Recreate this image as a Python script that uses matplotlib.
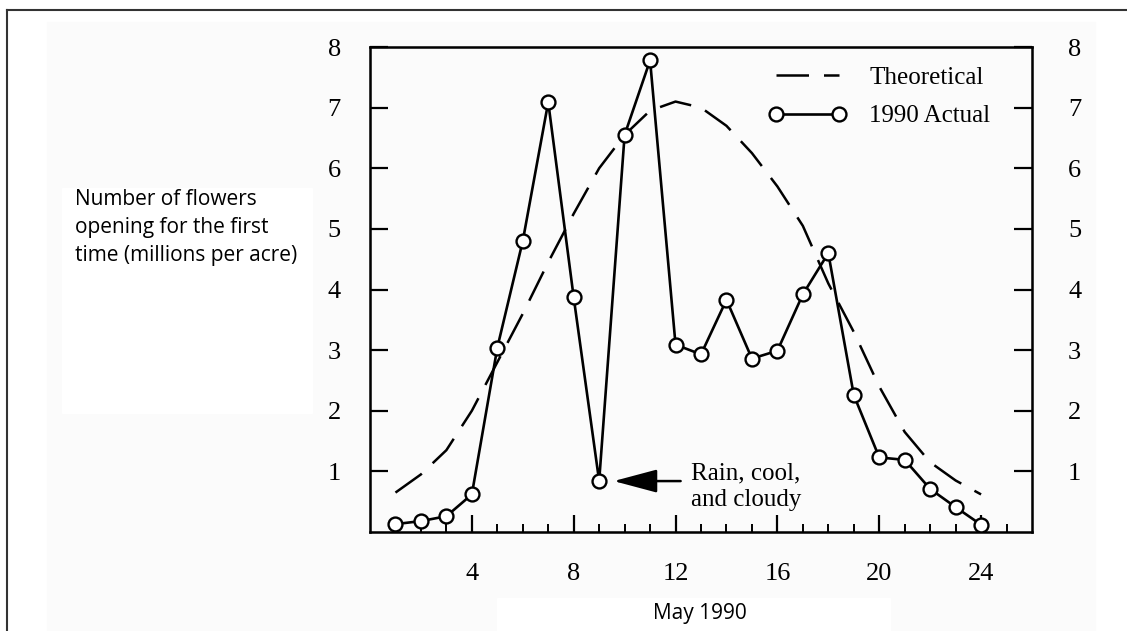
import numpy as np
from matplotlib import pyplot as plt
from matplotlib.patches import Rectangle
from matplotlib.lines import Line2D

# Data (May 1990, millions of flowers per acre)
days = list(range(1, 25))
actual = [0.13, 0.18, 0.26, 0.62, 3.04, 4.80, 7.09, 3.87, 0.84, 6.55, 7.78, 3.09,
          2.93, 3.83, 2.86, 2.99, 3.92, 4.60, 2.26, 1.23, 1.19, 0.71, 0.41, 0.12]
theoretical = [0.65, 0.95, 1.35, 2.0, 2.8, 3.6, 4.45, 5.25, 6.0, 6.55, 6.95, 7.1,
               7.0, 6.7, 6.25, 5.7, 5.05, 4.1, 3.3, 2.4, 1.65, 1.15, 0.85, 0.62]
major_days = [4, 8, 12, 16, 20, 24]
minor_days = list(range(1, 26))
y_ticks = [1, 2, 3, 4, 5, 6, 7, 8]

W, H = 1127, 631
fig = plt.figure(figsize=(W / 100, H / 100), dpi=100)
fig.patch.set_facecolor('white')

# scanned page look: light grey area, white boxes behind the added labels
fig.patches.append(Rectangle((47 / W, 0), (1095 - 47) / W, 1 - 22 / H,
                             transform=fig.transFigure, color='#fbfbfb', zorder=-10))
fig.patches.append(Rectangle((62 / W, 1 - 413 / H), 250 / W, 225 / H,
                             transform=fig.transFigure, color='white', zorder=-9))
fig.patches.append(Rectangle((497 / W, 0), 393 / W, 33 / H,
                             transform=fig.transFigure, color='white', zorder=-9))
# frame lines (top and left)
fig.lines.append(Line2D([7 / W, 1], [1 - 10 / H, 1 - 10 / H], transform=fig.transFigure,
                        color='#333333', lw=1.5))
fig.lines.append(Line2D([7 / W, 7 / W], [0, 1 - 10 / H], transform=fig.transFigure,
                        color='#333333', lw=1.5))

ax = fig.add_axes([370 / W, 1 - 532 / H, (1032 - 370) / W, (532 - 47) / H])
ax.set_facecolor('none')

serif = 'Liberation Serif'

ax.plot(days, theoretical, color='black', lw=1.8, dashes=(13, 6),
        label='Theoretical', zorder=2)
ax.plot(days, actual, color='black', lw=1.9, marker='o', markersize=10,
        markerfacecolor='white', markeredgecolor='black', markeredgewidth=1.7,
        label='1990 Actual', zorder=3)

ax.set_xlim(0, 26)
ax.set_ylim(0, 8)
for s in ax.spines.values():
    s.set_linewidth(1.8)

ax.set_xticks(major_days)
ax.set_xticks(minor_days, minor=True)
ax.set_yticks(y_ticks)
ax.tick_params(axis='x', which='major', direction='in', length=12, width=1.6, pad=22,
               labelsize=19)
ax.tick_params(axis='x', which='minor', direction='in', length=6, width=1.4)
ax.tick_params(axis='y', which='major', direction='in', length=13, width=1.6,
               pad=21, labelsize=19)

# right side labels sit a little further from the spine
ax2 = ax.twinx()
ax2.set_ylim(0, 8)
ax2.set_yticks(y_ticks)
ax2.tick_params(axis='y', direction='in', length=13, width=1.6, pad=26, labelsize=19)
for a in (ax, ax2):
    for lab in a.get_xticklabels() + a.get_yticklabels():
        lab.set_fontfamily(serif)

leg = ax.legend(loc='upper left', bbox_to_anchor=(768 / W, 1 - 66 / H),
                bbox_transform=fig.transFigure, frameon=False, numpoints=2,
                handlelength=3.15, handletextpad=0.9, labelspacing=0.65,
                borderpad=0, borderaxespad=0,
                prop={'family': serif, 'size': 18})

ax.annotate('', xy=(9.57, 0.84), xytext=(12.2, 0.84),
            arrowprops=dict(arrowstyle='-|>,head_length=2.7,head_width=0.72',
                            mutation_scale=10, lw=1.8, color='black',
                            shrinkA=0, shrinkB=0))
ax.text(12.6, 0.75, 'Rain, cool,\nand cloudy', ha='left', va='center',
        fontsize=18, family=serif, linespacing=1.3)

fig.text(75 / W, 1 - 189 / H, 'Number of flowers\nopening for the first\ntime (millions per acre)',
         ha='left', va='top', fontsize=15, family='Open Sans', linespacing=1.43)
fig.text(700 / W, 1 - 613 / H, 'May 1990', ha='center', va='center',
         fontsize=15, family='Open Sans')

fig.savefig('out.png', dpi=100)
